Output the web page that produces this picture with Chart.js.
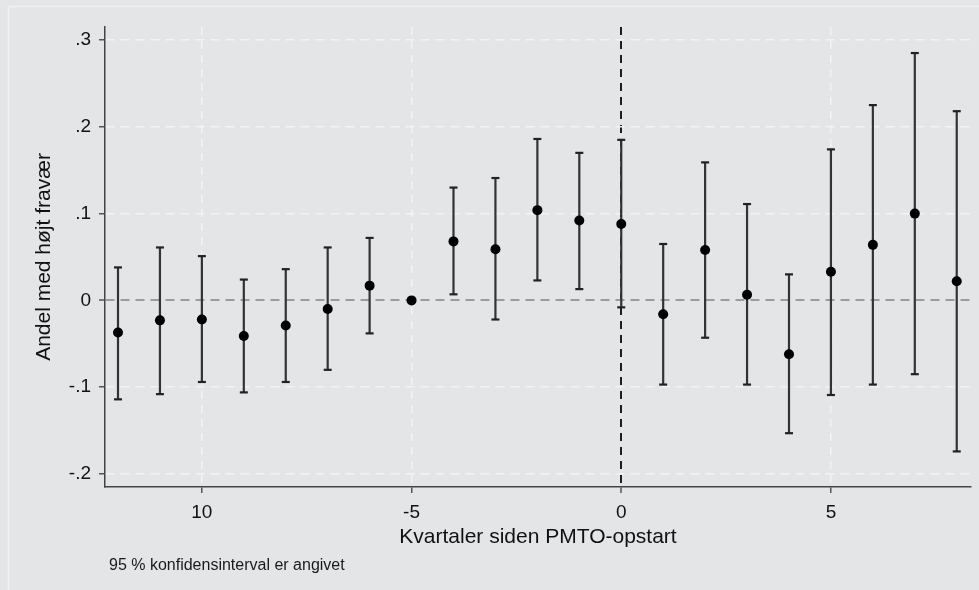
<!DOCTYPE html>
<html>
<head>
<meta charset="utf-8">
<script src="https://cdn.jsdelivr.net/npm/chart.js"></script>
<style>
  body { margin: 0; background: #e4e5e7; }
  #wrap { width: 979px; height: 590px; position: relative; }
</style>
</head>
<body>
<div id="wrap"><canvas id="chart"></canvas></div>
<script>
// Quarters relative to PMTO start, estimates and 95% CI bounds
const quarters = [-12, -11, -10, -9, -8, -7, -6, -5, -4, -3, -2, -1, 0, 1, 2, 3, 4, 5, 6, 7, 8];
const estimate = [-0.037, -0.023, -0.022, -0.041, -0.029, -0.010, 0.017, 0, 0.068, 0.059, 0.104, 0.092, 0.088, -0.016, 0.058, 0.0065, -0.062, 0.033, 0.064, 0.100, 0.022];
const lower = [-0.114, -0.108, -0.094, -0.106, -0.094, -0.080, -0.038, null, 0.007, -0.022, 0.023, 0.013, -0.008, -0.097, -0.043, -0.097, -0.153, -0.109, -0.097, -0.085, -0.174];
const upper = [0.038, 0.061, 0.051, 0.024, 0.036, 0.061, 0.072, null, 0.130, 0.141, 0.186, 0.170, 0.185, 0.065, 0.159, 0.111, 0.030, 0.174, 0.225, 0.285, 0.218];

const xTickValues = [-10, -5, 0, 5];
const xTickLabels = ["10", "-5", "0", "5"];
const yTickValues = [-0.2, -0.1, 0, 0.1, 0.2, 0.3];
const yTickLabels = ["-.2", "-.1", "0", ".1", ".2", ".3"];

const xTitle = "Kvartaler siden PMTO-opstart";
const yTitle = "Andel med højt fravær";
const note = "95 % konfidensinterval er angivet";

const FONT = "'Liberation Sans', Arial, sans-serif";

// whiskers: lo -> hi for each quarter, broken by a null point
const whiskers = [];
quarters.forEach((q, i) => {
    if (lower[i] === null) return;
    whiskers.push({ x: q, y: lower[i] });
    whiskers.push({ x: q, y: upper[i] });
    whiskers.push({ x: q, y: null });
});

const points = quarters.map((q, i) => ({ x: q, y: estimate[i] }));

// background, outer frame and note text
const decor = {
    id: "decor",
    beforeDraw(chart) {
        const ctx = chart.ctx;
        ctx.save();
        ctx.fillStyle = "#e4e5e7";
        ctx.fillRect(0, 0, chart.width, chart.height);
        ctx.strokeStyle = "#f0f1f2";
        ctx.lineWidth = 1.5;
        ctx.strokeRect(8.5, 6.5, chart.width + 20, chart.height + 20);
        ctx.restore();
    },
    afterDraw(chart) {
        const ctx = chart.ctx;
        ctx.save();
        ctx.fillStyle = "#1a1a1a";
        ctx.font = "16px " + FONT;
        ctx.textBaseline = "alphabetic";
        ctx.fillText(note, 109, 570);
        ctx.restore();
    }
};

new Chart(document.getElementById("chart"), {
    type: "scatter",
    data: {
        datasets: [
            {
                type: "line",
                data: whiskers,
                borderColor: "#333333",
                borderWidth: 2.2,
                spanGaps: false,
                pointStyle: "line",
                pointRadius: 4,
                pointBorderWidth: 2.2,
                pointBorderColor: "#222222",
                order: 2
            },
            {
                data: points,
                backgroundColor: "#000000",
                borderColor: "#000000",
                pointRadius: 5,
                pointBorderWidth: 0,
                order: 1
            }
        ]
    },
    options: {
        responsive: true,
        maintainAspectRatio: false,
        animation: false,
        layout: { padding: { left: 0, right: 8, top: 27, bottom: 0 } },
        plugins: { legend: { display: false }, tooltip: { enabled: false } },
        scales: {
            x: {
                type: "linear",
                min: -12.31,
                max: 8.34,
                afterBuildTicks: (scale) => { scale.ticks = xTickValues.map(v => ({ value: v })); },
                afterFit: (scale) => { scale.height = 103; },
                ticks: {
                    padding: 8,
                    color: "#111111",
                    font: { family: FONT, size: 19 },
                    maxRotation: 0,
                    callback: (v) => xTickLabels[xTickValues.indexOf(v)]
                },
                grid: {
                    color: (c) => c.tick && c.tick.value === 0 ? "#1e1e1e" : "#f3f3f4",
                    lineWidth: (c) => c.tick && c.tick.value === 0 ? 2 : 1.5,
                    tickColor: "#555555",
                    tickLength: 6,
                    tickWidth: 1.5
                },
                border: { display: true, color: "#444444", width: 1.5, dash: [8, 6] },
                title: {
                    display: true,
                    text: xTitle,
                    color: "#111111",
                    font: { family: FONT, size: 21 },
                    padding: { top: 0, bottom: 40 }
                }
            },
            y: {
                min: -0.215,
                max: 0.315,
                afterBuildTicks: (scale) => { scale.ticks = yTickValues.map(v => ({ value: v })); },
                afterFit: (scale) => { scale.width = 105; },
                ticks: {
                    padding: 8,
                    color: "#111111",
                    font: { family: FONT, size: 19 },
                    callback: (v) => yTickLabels[yTickValues.findIndex(t => Math.abs(t - v) < 1e-9)]
                },
                grid: {
                    color: (c) => c.tick && Math.abs(c.tick.value) < 1e-9 ? "#9c9c9c" : "#f3f3f4",
                    lineWidth: (c) => c.tick && Math.abs(c.tick.value) < 1e-9 ? 2 : 1.5,
                    tickColor: "#555555",
                    tickLength: 6,
                    tickWidth: 1.5
                },
                border: { display: true, color: "#444444", width: 1.5, dash: [9, 6] },
                title: {
                    display: true,
                    text: yTitle,
                    color: "#111111",
                    font: { family: FONT, size: 21 },
                    padding: { top: 32, bottom: 0 }
                }
            }
        }
    },
    plugins: [decor]
});
</script>
</body>
</html>
